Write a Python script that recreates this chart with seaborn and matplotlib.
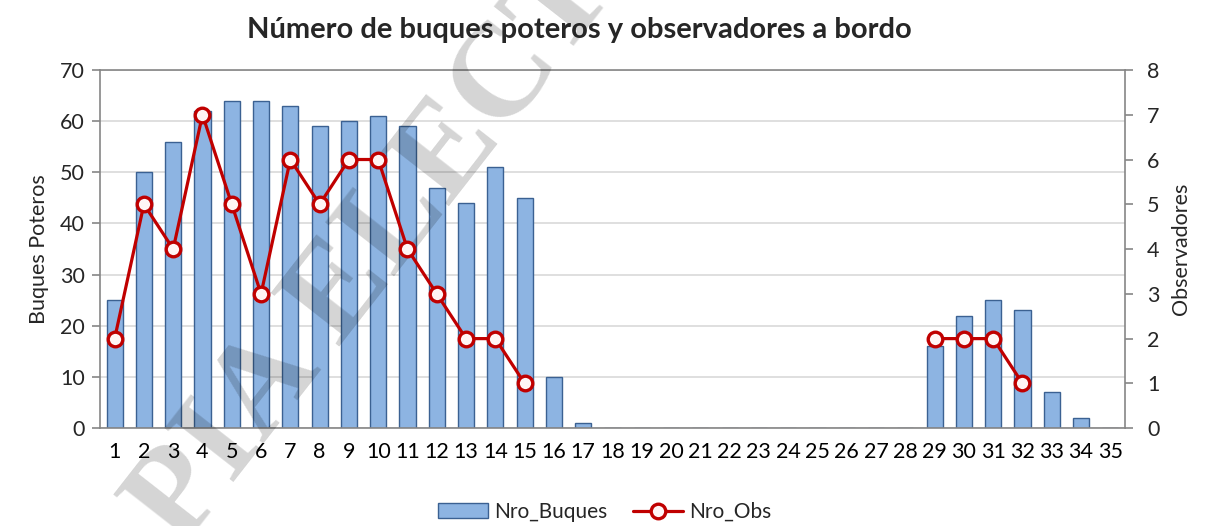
import matplotlib
matplotlib.use("Agg")
import matplotlib.pyplot as plt
import seaborn as sns
import pandas as pd
import numpy as np
from matplotlib.lines import Line2D
from matplotlib.patches import Patch

categories = [str(i) for i in range(1, 36)]
nro_buques = [25, 50, 56, 62, 64, 64, 63, 59, 60, 61, 59, 47, 44, 51, 45, 10, 1,
              0, 0, 0, 0, 0, 0, 0, 0, 0, 0, 0,
              16, 22, 25, 23, 7, 2, 0]
nro_obs = [2, 5, 4, 7, 5, 3, 6, 5, 6, 6, 4, 3, 2, 2, 1, None, None,
           None, None, None, None, None, None, None, None, None, None, None,
           2, 2, 2, 1, None, None, None]

title = "Número de buques poteros y observadores a bordo"
ylabel_left = "Buques Poteros"
ylabel_right = "Observadores"
watermark = "PIA ELECT"

sns.set_style("white")
plt.rcParams['font.family'] = ['Lato', 'DejaVu Sans']

fig = plt.figure(figsize=(12.09, 5.26), dpi=100)
ax = fig.add_axes([0.0827, 0.186, 0.8478, 0.681])

df_b = pd.DataFrame({"cat": categories, "buques": nro_buques})
sns.barplot(data=df_b, x="cat", y="buques", order=categories, ax=ax,
            color="#8DB4E2", edgecolor="#3B6192", linewidth=1.0,
            width=0.55, saturation=1, zorder=2)

ax.set_xlim(-0.5, len(categories) - 0.5)
ax.set_ylim(0, 70)
ax.set_yticks(range(0, 71, 10))
ax.yaxis.grid(True, color="#D9D9D9", linewidth=1.2, zorder=0)
ax.set_axisbelow(True)
for s in ["left", "bottom", "top"]:
    ax.spines[s].set_visible(True)
    ax.spines[s].set_color("#868686")
    ax.spines[s].set_linewidth(1.2)
ax.spines["right"].set_visible(False)
ax.set_xticks(np.arange(len(categories)))
ax.set_xticklabels(categories)
ax.set_xticks(np.arange(-0.5, len(categories)), minor=True)
ax.tick_params(axis="x", which="major", length=0, labelsize=15.5, pad=10, colors="black")
ax.tick_params(axis="x", which="minor", length=6, width=1.2, color="#868686", direction="out")
ax.tick_params(axis="y", length=6, width=1.2, color="#868686", direction="out",
               left=True, labelsize=15.5, pad=5)
ax.set_xlabel("")
ax.set_ylabel(ylabel_left, fontsize=15.5, labelpad=8)

ax2 = ax.twinx()
df_o = pd.DataFrame({"pos": np.arange(len(categories)), "obs": nro_obs})
df_o["obs"] = pd.to_numeric(df_o["obs"])
df_o["seg"] = df_o["obs"].isna().cumsum()
df_o = df_o.dropna()
sns.lineplot(data=df_o, x="pos", y="obs", units="seg", estimator=None, ax=ax2,
             color="#C00000", linewidth=2.3, marker="o", markersize=10.5,
             markerfacecolor="#FFF5F5", markeredgecolor="#C00000",
             markeredgewidth=2.4, zorder=5)
ax2.set_ylim(0, 8)
ax2.set_yticks(range(0, 9))
ax2.set_xlim(-0.5, len(categories) - 0.5)
for s in ["left", "bottom", "top"]:
    ax2.spines[s].set_visible(False)
ax2.spines["right"].set_visible(True)
ax2.spines["right"].set_color("#868686")
ax2.spines["right"].set_linewidth(1.2)
ax2.tick_params(axis="y", length=6, width=1.2, color="#868686", direction="out",
                right=True, labelsize=15.5, pad=10)
ax2.set_ylabel(ylabel_right, fontsize=15.5, labelpad=8)
ax2.set_xlabel("")
ax2.grid(False)

fig.suptitle(title, fontsize=21, fontweight="bold", y=0.968, x=0.4795)

handles = [Patch(facecolor="#8DB4E2", edgecolor="#3B6192", label="Nro_Buques"),
           Line2D([0], [0], color="#C00000", lw=2.3, marker="o", markersize=10.5,
                  markerfacecolor="#FFF5F5", markeredgecolor="#C00000",
                  markeredgewidth=2.4, label="Nro_Obs")]
fig.legend(handles=handles, loc="center", bbox_to_anchor=(0.5, 0.027), ncol=2,
           frameon=False, fontsize=15, handlelength=2.4, columnspacing=1.2,
           handletextpad=0.3)

ax.text(0.15, -0.045, watermark, transform=fig.transFigure, rotation=52,
        rotation_mode="anchor", ha="left", va="baseline",
        fontsize=96, family="Liberation Serif", fontweight="bold",
        color="black", alpha=0.17, clip_on=False, zorder=10)

fig.savefig("out.png", dpi=100)
